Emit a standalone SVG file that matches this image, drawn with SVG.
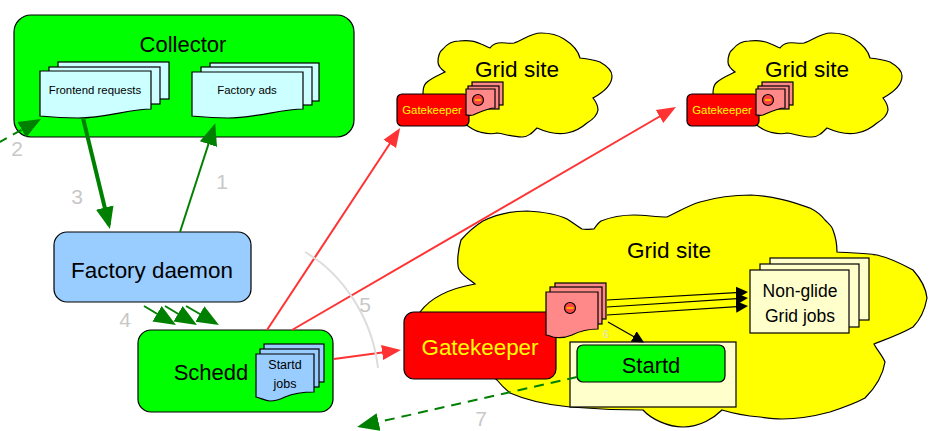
<svg xmlns="http://www.w3.org/2000/svg" width="944" height="431" viewBox="0 0 944 431">
<style>
text{font-family:"Liberation Sans",Arial,sans-serif;text-anchor:middle;fill:#000}
.s{stroke:#000;stroke-width:1.2}
.g{fill:#0f0}.b{fill:#9cf}.c{fill:#cff}.y{fill:#ff0}.r{fill:#f00}.p{fill:#f88}.l{fill:#ffc}
.t22{font-size:22px}.t23{font-size:22.600px}.t11{font-size:11.400px}.t12{font-size:12.500px}.t17{font-size:17.500px}
.n{font-size:21px;fill:#c8c8c8}
.dg{fill:none;stroke:#008000;stroke-width:2}
.rd{fill:none;stroke:#f33;stroke-width:2}
.bk{fill:none;stroke:#000;stroke-width:1.2}
</style>
<defs>
<marker id="mg" markerUnits="userSpaceOnUse" markerWidth="26" markerHeight="20" refX="18" refY="10" orient="auto"><path d="M0 1L22 10L0 19Z" fill="#008000"/></marker>
<marker id="mr" markerUnits="userSpaceOnUse" markerWidth="26" markerHeight="20" refX="15" refY="10" orient="auto"><path d="M0 2.500L19 10L0 17.500Z" fill="#f33"/></marker>
<marker id="mk" markerUnits="userSpaceOnUse" markerWidth="16" markerHeight="14" refX="9" refY="7" orient="auto"><path d="M0 1L12 7L0 13Z" fill="#000"/></marker>
<path id="smallcloud" class="s y" d="M423 94C423 88 424 85 426 83C431 78 439 75 445 72C441 69 438 66 438 62C438 56 439 52 443 49C447 44 452 41 459 41C467 40 475 41 481 44C484 45 487 47 490 48C492 45 494 44 498 43C503 42 509 44 514 43C522 41 530 33 541 33C550 33 558 35 564 39C572 44 578 50 580 58C588 59 594 60 600 62C607 66 612 70 612 76C612 85 604 92 593 98C597 103 598 106 598 110C597 116 592 120 587 123C580 129 574 132 567 133C557 135 546 132 537 128C532 133 528 137 522 137C512 137 505 134 497 133C490 135 484 133 480 132C475 131 471 128 468 126Z"/>
<g id="smallstack">
<rect class="s p" x="472" y="82" width="31" height="23"/>
<rect class="s p" x="468" y="86" width="31" height="23"/>
<path class="s p" d="M466 89H495V108C488 108 480 112 473 115C470 116 468 115 466 115Z"/>
<circle class="s r" cx="478" cy="100" r="5.500" style="fill:#f44"/>
<rect x="475" y="99" width="6" height="2" fill="#fa0"/>
</g>
</defs>

<g id="collector">
<rect class="s g" x="14" y="15" width="340" height="122" rx="17"/>
<text class="t22" x="183" y="52">Collector</text>
</g>
<g id="frontend-requests">
<rect class="s c" x="58" y="62" width="111" height="37"/>
<rect class="s c" x="49" y="67" width="111" height="37"/>
<path class="s c" d="M40 71H151V109C130 109 105 118 78 118C60 118 50 117 40 116Z"/>
<text class="t11" x="95" y="94">Frontend requests</text>
</g>
<g id="factory-ads">
<rect class="s c" x="210" y="63" width="109" height="38"/>
<rect class="s c" x="201" y="67" width="111" height="38"/>
<path class="s c" d="M192 72H303V109C282 109 255 118 228 118C210 118 202 117 192 116Z"/>
<text class="t11" x="247" y="94">Factory ads</text>
</g>
<g id="factory-daemon">
<rect class="s b" x="54" y="232" width="197" height="70" rx="13"/>
<text class="t22" x="152" y="278" style="font-size:22.400px">Factory daemon</text>
</g>
<g id="schedd">
<rect class="s g" x="138" y="330" width="195" height="82" rx="13"/>
<text class="t22" x="211" y="380">Schedd</text>
<rect class="s b" x="264" y="344" width="60" height="38"/>
<rect class="s b" x="260" y="349" width="59" height="38"/>
<path class="s b" d="M256 354H314V392C303 392 292 394 285 397C279 400 275 401 270 401C265 401 261 398 256 397Z"/>
<text class="t12" x="285" y="369">Startd</text>
<text class="t12" x="285" y="388">jobs</text>
</g>

<g id="grid-site-1">
<use href="#smallcloud"/>
<text class="t23" x="517" y="77">Grid site</text>
</g>
<g id="gatekeeper-1">
<rect class="s r" x="397" y="94" width="72" height="32" rx="5"/>
<text class="t11" x="432" y="114" style="fill:#ff0">Gatekeeper</text>
<use href="#smallstack"/>
</g>
<g id="grid-site-2">
<use href="#smallcloud" x="290"/>
<text class="t23" x="807" y="77">Grid site</text>
</g>
<g id="gatekeeper-2">
<rect class="s r" x="687" y="94" width="72" height="32" rx="5"/>
<text class="t11" x="722" y="114" style="fill:#ff0">Gatekeeper</text>
<use href="#smallstack" x="290"/>
</g>

<g id="grid-site-3">
<path class="s y" d="M420 312C432 296 452 288 475 284C466 277 458 272 458 265C457 255 459 247 461 240C468 232 475 226 483 221C497 214 512 211 527 211C544 212 557 214 567 219C572 222 577 226 582 229C587 230 591 229 594 229C596 226 598 223 601 221C611 217 622 215 634 215C645 215 656 217 667 217C678 212 689 205 700 202C717 197 734 195 751 195C775 196 795 203 810 208C818 212 822 216 825 220C829 224 832 226 833 230C836 238 837 245 837 252C851 253 865 253 877 255C890 258 902 264 913 270C921 279 926 288 927 298C925 309 921 319 913 327C901 334 887 339 874 344C877 350 882 355 885 362C883 375 876 387 865 398C854 404 842 408 830 412C815 416 799 419 782 419C774 419 767 418 760 417C748 416 735 414 722 410C714 418 700 427 683 427C668 427 651 419 643 410C618 410 594 409 570 407C548 405 528 401 510 393C505 389 501 385 497 380Z"/>
<text class="t23" x="669" y="258">Grid site</text>
</g>
<g id="non-glide-jobs">
<rect class="s l" x="770" y="258" width="99" height="62"/>
<rect class="s l" x="760" y="264" width="99" height="63"/>
<rect class="s l" x="750" y="270" width="99" height="63"/>
<text class="t17" x="800" y="297">Non-glide</text>
<text class="t17" x="800" y="322">Grid jobs</text>
</g>
<g id="startd">
<rect class="s l" x="570" y="342" width="166" height="65"/>
<rect class="s g" x="577" y="345" width="148" height="37" rx="6"/>
<text class="t22" x="651" y="373">Startd</text>
</g>
<g id="gatekeeper-3">
<rect class="s r" x="404" y="312" width="152" height="67" rx="10"/>
<text class="t22" x="480" y="355" style="fill:#ff0;font-size:22.400px">Gatekeeper</text>
</g>
<g id="job-stack">
<rect class="s p" x="555" y="283" width="51" height="36"/>
<rect class="s p" x="550" y="287" width="52" height="37"/>
<path class="s p" d="M546 292H598V329C590 329 580 331 572 335C565 338 558 338 553 337C550 336 548 335 546 335Z"/>
<circle class="s" cx="570" cy="308" r="5.500" fill="#f44"/>
<rect x="566.500" y="307" width="7" height="2" fill="#fa0"/>
</g>

<g id="connectors">
<path class="dg" style="stroke-width:4" d="M83 118L109 225" marker-end="url(#mg)"/>
<path class="dg" d="M180 232L214 127" marker-end="url(#mg)"/>
<path class="dg" d="M-2 143L37.500 121" stroke-dasharray="10 7" marker-end="url(#mg)"/>
<path class="dg" d="M144 306L172.500 323" marker-end="url(#mg)"/>
<path class="dg" d="M165 306L193.500 323" marker-end="url(#mg)"/>
<path class="dg" d="M186 306L215.500 323" marker-end="url(#mg)"/>
<path class="dg" d="M577 377L361 426" stroke-dasharray="10 7" marker-end="url(#mg)"/>
<path class="rd" d="M267 330L398 131.300" marker-end="url(#mr)"/>
<path class="rd" d="M292 330L672.500 109" marker-end="url(#mr)"/>
<path class="rd" d="M334 359L397 350.500" marker-end="url(#mr)"/>
<path class="bk" d="M607 300L745 292.200" marker-end="url(#mk)"/>
<path class="bk" d="M607 307L745 298.200" marker-end="url(#mk)"/>
<path class="bk" d="M607 315L745 306.200" marker-end="url(#mk)"/>
<path class="bk" d="M608 322L641.500 341" marker-end="url(#mk)"/>
<path d="M305 252C340 272 372 315 378 368" fill="none" stroke="#ddd" stroke-width="2"/>
</g>

<g id="labels">
<text class="n" x="222" y="189">1</text>
<text class="n" x="17" y="156">2</text>
<text class="n" x="77" y="204">3</text>
<text class="n" x="125" y="327">4</text>
<text class="n" x="365" y="312">5</text>
<text x="606" y="338" style="font-size:11px;fill:#ddd">6</text>
<text class="n" x="481" y="426">7</text>
</g>
</svg>
